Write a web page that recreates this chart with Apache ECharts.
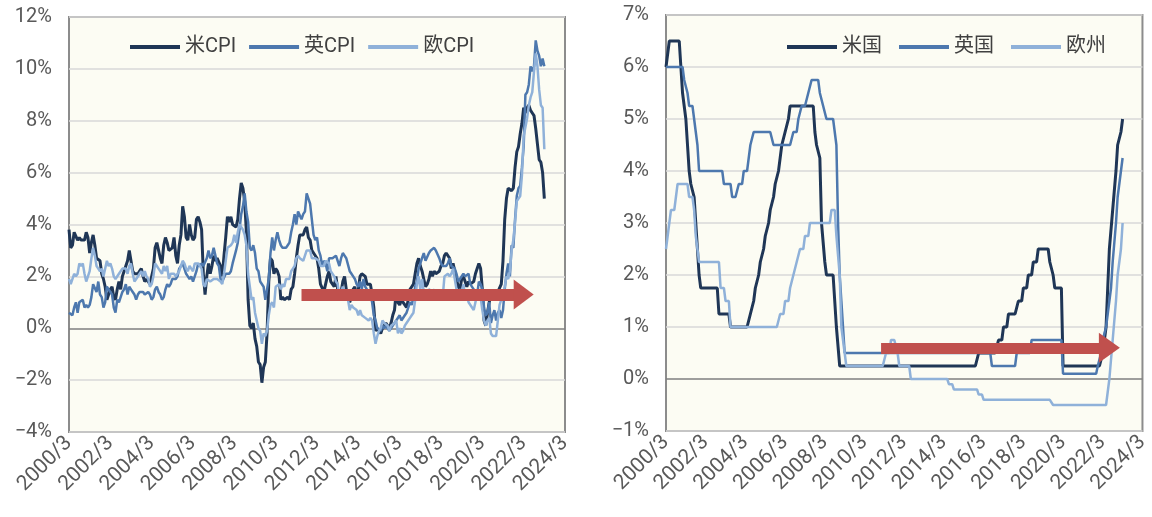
<!DOCTYPE html>
<html>
<head>
<meta charset="utf-8">
<script src="https://cdn.jsdelivr.net/npm/echarts@6/dist/echarts.min.js"></script>
<style>
  html, body { margin: 0; padding: 0; background: #fff; }
  #chart { width: 1152px; height: 517px; }
</style>
</head>
<body>
<div id="chart"></div>
<script>
// 月次カテゴリ 2000/3 〜 2024/3
const months = [];
for (let y = 2000, m = 3; y < 2024 || (y === 2024 && m <= 3);) {
    months.push(y + '/' + m);
    m++;
    if (m > 12) { m = 1; y++; }
}

// CPI 前年比 (%)  2000/3 〜 2023/3
const usCpi = [
    3.8, 3.1, 3.2, 3.7, 3.7, 3.4, 3.5, 3.4, 3.4, 3.4,
    3.7, 3.5, 2.9, 3.3, 3.6, 3.2, 2.7, 2.7, 2.6, 2.1, 1.9, 1.6,
    1.1, 1.1, 1.5, 1.6, 1.2, 1.1, 1.5, 1.8, 1.5, 2.0, 2.2, 2.4,
    2.6, 3.0, 3.0, 2.2, 2.1, 2.1, 2.1, 2.2, 2.3, 2.0, 1.8, 1.9,
    1.9, 1.7, 1.7, 2.3, 3.1, 3.3, 3.0, 2.7, 2.5, 3.2, 3.5, 3.3,
    3.0, 3.0, 3.1, 3.5, 2.8, 2.5, 3.2, 3.6, 4.7, 4.3, 3.5, 3.4,
    4.0, 3.6, 3.4, 3.5, 4.2, 4.3, 4.1, 3.8, 2.1, 1.3, 2.0, 2.5,
    2.1, 2.4, 2.8, 2.6, 2.7, 2.7, 2.4, 2.0, 2.8, 3.5, 4.3, 4.1,
    4.3, 4.0, 4.0, 3.9, 4.2, 5.0, 5.6, 5.4, 4.9, 3.7, 1.1, 0.1,
    0.0, 0.2, -0.4, -0.7, -1.3, -1.4, -2.1, -1.5, -1.3, -0.2, 1.8, 2.7,
    2.6, 2.1, 2.3, 2.2, 2.0, 1.1, 1.2, 1.1, 1.1, 1.2, 1.1, 1.5,
    1.6, 2.1, 2.7, 3.2, 3.6, 3.6, 3.6, 3.8, 3.9, 3.5, 3.4, 3.0,
    2.9, 2.9, 2.7, 2.3, 1.7, 1.7, 1.4, 1.7, 2.0, 2.2, 1.8, 1.7,
    1.6, 2.0, 1.5, 1.1, 1.4, 1.8, 2.0, 1.5, 1.2, 1.0, 1.2, 1.5,
    1.6, 1.1, 1.5, 2.0, 2.1, 2.1, 2.0, 1.7, 1.7, 1.7, 1.3, 0.8,
    -0.1, 0.0, -0.1, -0.2, 0.0, 0.1, 0.2, 0.2, 0.0, 0.2, 0.5, 0.7,
    1.4, 1.0, 0.9, 1.1, 1.0, 1.0, 0.8, 1.1, 1.5, 1.6, 1.7, 2.1,
    2.5, 2.7, 2.4, 2.2, 1.9, 1.6, 1.7, 1.9, 2.2, 2.0, 2.2, 2.1,
    2.1, 2.2, 2.4, 2.5, 2.8, 2.9, 2.9, 2.7, 2.3, 2.5, 2.2, 1.9,
    1.6, 1.5, 1.9, 2.0, 1.8, 1.6, 1.8, 1.7, 1.7, 1.8, 2.1, 2.3,
    2.5, 2.3, 1.5, 0.3, 0.1, 0.6, 1.0, 1.3, 1.4, 1.2, 1.2, 1.4,
    1.4, 1.7, 2.6, 4.2, 5.0, 5.4, 5.4, 5.3, 5.4, 6.2, 6.8, 7.0,
    7.5, 7.9, 8.5, 8.3, 8.5, 8.6, 8.4, 8.3, 8.2, 7.7, 7.1, 6.5,
    6.4, 6.0, 5.0
];
const ukCpi = [
    0.6, 0.6, 0.5, 0.8, 1.0, 0.6, 1.0, 1.0, 1.1, 0.8,
    0.9, 0.8, 0.9, 1.2, 1.7, 1.7, 1.4, 1.8, 1.3, 1.2, 0.8, 1.0,
    1.6, 1.5, 1.5, 1.3, 0.8, 0.6, 1.1, 1.0, 1.0, 1.4, 1.5, 1.7,
    1.3, 1.6, 1.5, 1.4, 1.3, 1.1, 1.3, 1.4, 1.4, 1.4, 1.3, 1.3,
    1.4, 1.3, 1.1, 1.2, 1.5, 1.6, 1.4, 1.3, 1.1, 1.2, 1.5, 1.7,
    1.6, 1.7, 1.9, 1.9, 1.9, 2.0, 2.3, 2.4, 2.5, 2.3, 2.1, 2.0,
    1.9, 2.0, 1.8, 2.0, 2.2, 2.5, 2.4, 2.5, 2.4, 2.4, 2.7, 3.0,
    2.7, 2.8, 3.1, 2.8, 2.5, 2.4, 1.9, 1.8, 1.8, 2.1, 2.1, 2.1,
    2.2, 2.5, 2.5, 3.0, 3.3, 3.8, 4.4, 4.7, 5.2, 4.5, 4.1, 3.1,
    3.0, 3.2, 2.9, 2.3, 2.2, 1.8, 1.8, 1.6, 1.1, 1.5, 1.9, 2.9,
    3.5, 3.0, 3.4, 3.7, 3.4, 3.2, 3.1, 3.1, 3.1, 3.2, 3.3, 3.7,
    4.0, 4.4, 4.0, 4.5, 4.5, 4.2, 4.4, 4.5, 5.2, 5.0, 4.8, 4.2,
    3.6, 3.4, 3.5, 3.0, 2.8, 2.4, 2.6, 2.5, 2.2, 2.7, 2.7, 2.7,
    2.7, 2.8, 2.8, 2.4, 2.7, 2.9, 2.8, 2.7, 2.7, 2.2, 2.1, 2.0,
    1.9, 1.7, 1.6, 1.8, 1.5, 1.9, 1.6, 1.5, 1.2, 1.3, 1.0, 0.5,
    0.3, 0.0, 0.0, -0.1, 0.1, 0.0, 0.1, 0.0, -0.1, -0.1, 0.1, 0.2,
    0.3, 0.3, 0.5, 0.3, 0.3, 0.5, 0.6, 0.6, 1.0, 0.9, 1.2, 1.6,
    1.8, 2.3, 2.3, 2.7, 2.9, 2.6, 2.6, 2.9, 3.0, 3.0, 3.1, 3.0,
    3.0, 2.7, 2.5, 2.4, 2.4, 2.4, 2.5, 2.7, 2.4, 2.4, 2.3, 2.1,
    1.8, 1.9, 1.9, 2.1, 2.0, 2.0, 2.1, 1.7, 1.7, 1.5, 1.5, 1.3,
    1.8, 1.7, 1.5, 0.8, 0.5, 0.6, 1.0, 0.2, 0.5, 0.7, 0.3, 0.6,
    0.7, 0.4, 0.7, 1.5, 2.1, 2.5, 2.0, 3.2, 3.1, 4.2, 5.1, 5.4,
    5.5, 6.2, 7.0, 9.0, 9.1, 9.4, 10.1, 9.9, 10.1, 11.1, 10.7, 10.5,
    10.1, 10.4, 10.1
];
const euCpi = [
    1.9, 1.7, 1.7, 2.1, 2.0, 2.1, 2.5, 2.4, 2.5, 2.1,
    1.8, 1.8, 2.2, 2.7, 3.1, 2.8, 2.4, 2.3, 2.2, 2.3, 2.0, 2.0,
    2.6, 2.4, 2.5, 2.3, 2.0, 1.9, 1.9, 2.1, 2.1, 2.3, 2.3, 2.3,
    2.1, 2.4, 2.5, 2.1, 1.8, 1.9, 1.9, 2.1, 2.2, 2.0, 2.2, 2.0,
    1.9, 1.6, 1.7, 2.0, 2.5, 2.4, 2.3, 2.3, 2.1, 2.4, 2.2, 2.4,
    1.9, 2.1, 2.1, 2.1, 2.0, 2.1, 2.2, 2.2, 2.6, 2.5, 2.3, 2.2,
    2.4, 2.3, 2.2, 2.5, 2.5, 2.5, 2.4, 2.3, 1.7, 1.6, 1.9, 1.9,
    1.8, 1.8, 1.9, 1.9, 1.9, 1.9, 1.8, 1.7, 2.1, 2.6, 3.1, 3.1,
    3.2, 3.3, 3.6, 3.3, 3.7, 4.0, 4.0, 3.8, 3.6, 3.2, 2.1, 1.6,
    1.1, 1.2, 0.6, 0.6, 0.0, -0.1, -0.6, -0.2, -0.3, -0.1, 0.5, 0.9,
    1.0, 0.8, 1.6, 1.6, 1.7, 1.5, 1.7, 1.6, 1.9, 1.9, 1.9, 2.2,
    2.3, 2.4, 2.7, 2.8, 2.7, 2.7, 2.6, 2.6, 3.0, 3.0, 3.0, 2.7,
    2.7, 2.7, 2.7, 2.6, 2.4, 2.4, 2.4, 2.6, 2.6, 2.5, 2.2, 2.2,
    2.0, 1.8, 1.7, 1.2, 1.4, 1.6, 1.6, 1.3, 1.1, 0.7, 0.9, 0.8,
    0.8, 0.7, 0.5, 0.7, 0.5, 0.5, 0.4, 0.4, 0.3, 0.4, 0.3, -0.2,
    -0.6, -0.3, -0.1, 0.0, 0.3, 0.2, 0.2, 0.1, -0.1, 0.1, 0.1, 0.2,
    0.3, -0.2, 0.0, -0.2, -0.1, 0.1, 0.2, 0.2, 0.4, 0.5, 0.6, 1.1,
    1.7, 2.0, 1.5, 1.9, 1.4, 1.3, 1.3, 1.5, 1.5, 1.4, 1.5, 1.3,
    1.3, 1.1, 1.4, 1.2, 2.0, 2.0, 2.1, 2.0, 2.1, 2.3, 1.9, 1.5,
    1.4, 1.5, 1.4, 1.7, 1.2, 1.3, 1.0, 1.0, 0.8, 0.7, 1.0, 1.3,
    1.4, 1.2, 0.7, 0.3, 0.1, 0.3, 0.4, -0.2, -0.3, -0.3, -0.3, -0.3,
    0.9, 0.9, 1.3, 1.6, 2.0, 1.9, 2.2, 3.0, 3.4, 4.1, 4.9, 5.0,
    5.1, 5.9, 7.4, 7.4, 8.1, 8.6, 8.9, 9.1, 9.9, 10.6, 10.1, 9.2,
    8.6, 8.5, 6.9
];

// 政策金利 (%)  2000/3 〜 2023/3
const usRate = [
    6.0, 6.0, 6.5, 6.5, 6.5, 6.5, 6.5, 6.5, 6.5, 6.5,
    5.5, 5.5, 5.0, 4.5, 4.0, 3.75, 3.75, 3.5, 3.0, 2.5, 2.0, 1.75,
    1.75, 1.75, 1.75, 1.75, 1.75, 1.75, 1.75, 1.75, 1.75, 1.75, 1.25, 1.25,
    1.25, 1.25, 1.25, 1.25, 1.25, 1.0, 1.0, 1.0, 1.0, 1.0, 1.0, 1.0,
    1.0, 1.0, 1.0, 1.0, 1.0, 1.25, 1.25, 1.5, 1.75, 1.75, 2.0, 2.25,
    2.25, 2.5, 2.75, 2.75, 3.0, 3.25, 3.25, 3.5, 3.75, 3.75, 4.0, 4.25,
    4.5, 4.5, 4.75, 4.75, 5.0, 5.25, 5.25, 5.25, 5.25, 5.25, 5.25, 5.25,
    5.25, 5.25, 5.25, 5.25, 5.25, 5.25, 5.25, 5.25, 4.75, 4.5, 4.5, 4.25,
    3.0, 3.0, 2.25, 2.0, 2.0, 2.0, 2.0, 2.0, 2.0, 1.0, 1.0, 0.25,
    0.25, 0.25, 0.25, 0.25, 0.25, 0.25, 0.25, 0.25, 0.25, 0.25, 0.25, 0.25,
    0.25, 0.25, 0.25, 0.25, 0.25, 0.25, 0.25, 0.25, 0.25, 0.25, 0.25, 0.25,
    0.25, 0.25, 0.25, 0.25, 0.25, 0.25, 0.25, 0.25, 0.25, 0.25, 0.25, 0.25,
    0.25, 0.25, 0.25, 0.25, 0.25, 0.25, 0.25, 0.25, 0.25, 0.25, 0.25, 0.25,
    0.25, 0.25, 0.25, 0.25, 0.25, 0.25, 0.25, 0.25, 0.25, 0.25, 0.25, 0.25,
    0.25, 0.25, 0.25, 0.25, 0.25, 0.25, 0.25, 0.25, 0.25, 0.25, 0.25, 0.25,
    0.25, 0.25, 0.25, 0.25, 0.25, 0.25, 0.25, 0.25, 0.25, 0.25, 0.25, 0.5,
    0.5, 0.5, 0.5, 0.5, 0.5, 0.5, 0.5, 0.5, 0.5, 0.5, 0.5, 0.75,
    0.75, 0.75, 1.0, 1.0, 1.0, 1.25, 1.25, 1.25, 1.25, 1.25, 1.25, 1.5,
    1.5, 1.5, 1.75, 1.75, 1.75, 2.0, 2.0, 2.0, 2.25, 2.25, 2.25, 2.5,
    2.5, 2.5, 2.5, 2.5, 2.5, 2.5, 2.25, 2.25, 2.0, 1.75, 1.75, 1.75,
    1.75, 1.75, 0.25, 0.25, 0.25, 0.25, 0.25, 0.25, 0.25, 0.25, 0.25, 0.25,
    0.25, 0.25, 0.25, 0.25, 0.25, 0.25, 0.25, 0.25, 0.25, 0.25, 0.25, 0.25,
    0.25, 0.25, 0.5, 0.5, 1.0, 1.75, 2.5, 2.5, 3.25, 3.25, 4.0, 4.5,
    4.5, 4.75, 5.0
];
const ukRate = [
    6.0, 6.0, 6.0, 6.0, 6.0, 6.0, 6.0, 6.0, 6.0, 6.0,
    6.0, 5.75, 5.75, 5.5, 5.25, 5.25, 5.25, 5.0, 4.75, 4.5, 4.0, 4.0,
    4.0, 4.0, 4.0, 4.0, 4.0, 4.0, 4.0, 4.0, 4.0, 4.0, 4.0, 4.0,
    4.0, 3.75, 3.75, 3.75, 3.75, 3.75, 3.5, 3.5, 3.5, 3.5, 3.75, 3.75,
    3.75, 4.0, 4.0, 4.0, 4.25, 4.5, 4.5, 4.75, 4.75, 4.75, 4.75, 4.75,
    4.75, 4.75, 4.75, 4.75, 4.75, 4.75, 4.75, 4.5, 4.5, 4.5, 4.5, 4.5,
    4.5, 4.5, 4.5, 4.5, 4.5, 4.5, 4.5, 4.75, 4.75, 4.75, 5.0, 5.0,
    5.25, 5.25, 5.25, 5.25, 5.5, 5.5, 5.75, 5.75, 5.75, 5.75, 5.75, 5.5,
    5.5, 5.25, 5.25, 5.0, 5.0, 5.0, 5.0, 5.0, 5.0, 4.5, 3.0, 2.0,
    1.5, 1.0, 0.5, 0.5, 0.5, 0.5, 0.5, 0.5, 0.5, 0.5, 0.5, 0.5,
    0.5, 0.5, 0.5, 0.5, 0.5, 0.5, 0.5, 0.5, 0.5, 0.5, 0.5, 0.5,
    0.5, 0.5, 0.5, 0.5, 0.5, 0.5, 0.5, 0.5, 0.5, 0.5, 0.5, 0.5,
    0.5, 0.5, 0.5, 0.5, 0.5, 0.5, 0.5, 0.5, 0.5, 0.5, 0.5, 0.5,
    0.5, 0.5, 0.5, 0.5, 0.5, 0.5, 0.5, 0.5, 0.5, 0.5, 0.5, 0.5,
    0.5, 0.5, 0.5, 0.5, 0.5, 0.5, 0.5, 0.5, 0.5, 0.5, 0.5, 0.5,
    0.5, 0.5, 0.5, 0.5, 0.5, 0.5, 0.5, 0.5, 0.5, 0.5, 0.5, 0.5,
    0.5, 0.5, 0.5, 0.5, 0.5, 0.5, 0.5, 0.25, 0.25, 0.25, 0.25, 0.25,
    0.25, 0.25, 0.25, 0.25, 0.25, 0.25, 0.25, 0.25, 0.25, 0.25, 0.5, 0.5,
    0.5, 0.5, 0.5, 0.5, 0.5, 0.5, 0.5, 0.75, 0.75, 0.75, 0.75, 0.75,
    0.75, 0.75, 0.75, 0.75, 0.75, 0.75, 0.75, 0.75, 0.75, 0.75, 0.75, 0.75,
    0.75, 0.75, 0.1, 0.1, 0.1, 0.1, 0.1, 0.1, 0.1, 0.1, 0.1, 0.1,
    0.1, 0.1, 0.1, 0.1, 0.1, 0.1, 0.1, 0.1, 0.1, 0.1, 0.1, 0.25,
    0.25, 0.5, 0.75, 0.75, 1.0, 1.25, 1.25, 1.75, 2.25, 2.25, 3.0, 3.5,
    3.5, 4.0, 4.25
];
const euRate = [
    2.5, 2.75, 2.75, 3.25, 3.25, 3.25, 3.5, 3.75, 3.75, 3.75,
    3.75, 3.75, 3.75, 3.75, 3.5, 3.5, 3.5, 3.25, 2.75, 2.75, 2.25, 2.25,
    2.25, 2.25, 2.25, 2.25, 2.25, 2.25, 2.25, 2.25, 2.25, 2.25, 2.25, 1.75,
    1.75, 1.75, 1.5, 1.5, 1.5, 1.0, 1.0, 1.0, 1.0, 1.0, 1.0, 1.0,
    1.0, 1.0, 1.0, 1.0, 1.0, 1.0, 1.0, 1.0, 1.0, 1.0, 1.0, 1.0,
    1.0, 1.0, 1.0, 1.0, 1.0, 1.0, 1.0, 1.0, 1.0, 1.0, 1.0, 1.25,
    1.25, 1.25, 1.5, 1.5, 1.5, 1.75, 1.75, 2.0, 2.0, 2.25, 2.25, 2.5,
    2.5, 2.5, 2.75, 2.75, 2.75, 3.0, 3.0, 3.0, 3.0, 3.0, 3.0, 3.0,
    3.0, 3.0, 3.0, 3.0, 3.0, 3.0, 3.25, 3.25, 3.25, 2.75, 2.75, 2.0,
    1.0, 1.0, 0.5, 0.25, 0.25, 0.25, 0.25, 0.25, 0.25, 0.25, 0.25, 0.25,
    0.25, 0.25, 0.25, 0.25, 0.25, 0.25, 0.25, 0.25, 0.25, 0.25, 0.25, 0.25,
    0.25, 0.25, 0.25, 0.5, 0.5, 0.5, 0.75, 0.75, 0.75, 0.75, 0.5, 0.25,
    0.25, 0.25, 0.25, 0.25, 0.25, 0.25, 0.0, 0.0, 0.0, 0.0, 0.0, 0.0,
    0.0, 0.0, 0.0, 0.0, 0.0, 0.0, 0.0, 0.0, 0.0, 0.0, 0.0, 0.0,
    0.0, 0.0, 0.0, 0.0, 0.0, -0.1, -0.1, -0.1, -0.2, -0.2, -0.2, -0.2,
    -0.2, -0.2, -0.2, -0.2, -0.2, -0.2, -0.2, -0.2, -0.2, -0.2, -0.2, -0.3,
    -0.3, -0.3, -0.4, -0.4, -0.4, -0.4, -0.4, -0.4, -0.4, -0.4, -0.4, -0.4,
    -0.4, -0.4, -0.4, -0.4, -0.4, -0.4, -0.4, -0.4, -0.4, -0.4, -0.4, -0.4,
    -0.4, -0.4, -0.4, -0.4, -0.4, -0.4, -0.4, -0.4, -0.4, -0.4, -0.4, -0.4,
    -0.4, -0.4, -0.4, -0.4, -0.4, -0.4, -0.4, -0.4, -0.5, -0.5, -0.5, -0.5,
    -0.5, -0.5, -0.5, -0.5, -0.5, -0.5, -0.5, -0.5, -0.5, -0.5, -0.5, -0.5,
    -0.5, -0.5, -0.5, -0.5, -0.5, -0.5, -0.5, -0.5, -0.5, -0.5, -0.5, -0.5,
    -0.5, -0.5, -0.5, -0.5, -0.5, -0.5, 0.0, 0.0, 0.75, 0.75, 1.5, 2.0,
    2.0, 2.5, 3.0
];

const cpiNames = ['米CPI', '英CPI', '欧CPI'];
const rateNames = ['米国', '英国', '欧州'];
const colors = ['#1f3656', '#4d78ae', '#8fb1d9'];

const chart = echarts.init(document.getElementById('chart'));

const fontFamily = "Roboto, 'Noto Sans CJK JP', sans-serif";
const gray = '#d9d9d9';
const zero = '#7f7f7f';

function pctLabel(v) {
    return (v < 0 ? '\u2212' + (-v) : v) + '%';
}

function xAxisFor(grid) {
    return {
        gridIndex: grid, type: 'category', data: months, boundaryGap: false,
        axisLine: { show: false }, axisTick: { show: false },
        axisLabel: { interval: 23, rotate: 45, fontSize: 21, color: '#595959', fontFamily: fontFamily, margin: 8 },
        splitLine: { show: false }
    };
}

// 系列の色は凡例の並び順 (米・英・欧) に合わせる
function lineSeries(name, data, idx, order, width) {
    return {
        name: name, type: 'line', data: data,
        xAxisIndex: idx, yAxisIndex: idx,
        showSymbol: false, symbol: 'none',
        lineStyle: { color: colors[order], width: width },
        itemStyle: { color: colors[order] }
    };
}

// 横ばいを示す赤い矢印
function arrow(from, to, level, thick, head) {
    return {
        silent: true,
        symbol: ['none', 'triangle'],
        symbolSize: head,
        lineStyle: { color: '#c0504d', width: thick, type: 'solid', opacity: 1 },
        itemStyle: { color: '#c0504d' },
        label: { show: false },
        emphasis: { disabled: true },
        data: [[{ coord: [from, level] }, { coord: [to, level] }]]
    };
}

const legendBase = {
    icon: 'rect', itemWidth: 50, itemHeight: 4, padding: 0, top: 37,
    textStyle: { fontSize: 20, color: '#404040', fontFamily: fontFamily }
};

const s3 = lineSeries(cpiNames[2], euCpi, 0, 2, 2.5);
s3.markLine = arrow('2011/6', '2022/3', 1.3, 12, [30, 20]);
const r3 = lineSeries(rateNames[2], euRate, 1, 2, 2.5);
r3.markLine = arrow('2011/1', '2022/7', 0.6, 11, [30, 21]);

chart.setOption({
    animation: false,
    backgroundColor: '#ffffff',
    legend: [
        Object.assign({}, legendBase, { data: cpiNames, left: 130, itemGap: 13 }),
        Object.assign({}, legendBase, { data: rateNames, left: 787, itemGap: 17 })
    ],
    grid: [
        { left: 69, top: 17, width: 496, height: 415, show: true, backgroundColor: '#fcfcf3', borderColor: '#8c8c8c', borderWidth: 2 },
        { left: 666, top: 15, width: 479, height: 416, show: true, backgroundColor: '#fcfcf3', borderColor: '#8c8c8c', borderWidth: 2 }
    ],
    xAxis: [xAxisFor(0), xAxisFor(1)],
    yAxis: [
        {
            gridIndex: 0, type: 'value', min: -4, max: 12, interval: 2,
            axisLine: { show: false }, axisTick: { show: false },
            axisLabel: { formatter: pctLabel, fontSize: 20, color: '#595959', fontFamily: fontFamily, margin: 17 },
            splitLine: { lineStyle: { color: [gray, gray, zero, gray, gray, gray, gray, gray, gray], width: 1.5 } }
        },
        {
            gridIndex: 1, type: 'value', min: -1, max: 7, interval: 1,
            axisLine: { show: false }, axisTick: { show: false },
            axisLabel: { formatter: pctLabel, fontSize: 20, color: '#595959', fontFamily: fontFamily, margin: 17 },
            splitLine: { lineStyle: { color: [gray, zero, gray, gray, gray, gray, gray, gray, gray], width: 1.5 } }
        }
    ],
    series: [
        lineSeries(cpiNames[0], usCpi, 0, 0, 3),
        lineSeries(cpiNames[1], ukCpi, 0, 1, 2.5),
        s3,
        lineSeries(rateNames[0], usRate, 1, 0, 3),
        lineSeries(rateNames[1], ukRate, 1, 1, 2.5),
        r3
    ]
});
</script>
</body>
</html>
